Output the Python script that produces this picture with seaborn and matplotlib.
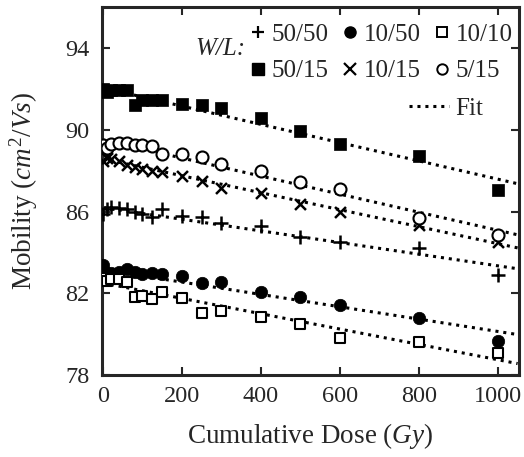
import numpy as np
import pandas as pd
import matplotlib.pyplot as plt
from matplotlib.lines import Line2D
import seaborn as sns

# dose points (Gy)
dose = [0, 10, 20, 40, 60, 80, 100, 125, 150, 200, 250, 300, 400, 500, 600, 800, 1000]

# mobility (cm^2/Vs) for each W/L
mob_50_50 = [85.9, 86.1, 86.2, 86.15, 86.1, 86.0, 85.9, 85.75, 86.1, 85.8, 85.75, 85.45, 85.3, 84.75, 84.5, 84.2, 82.9]
mob_10_50 = [83.39, 83.0, 82.98, 83.05, 83.18, 83.06, 82.95, 83.0, 82.95, 82.85, 82.52, 82.57, 82.08, 81.84, 81.43, 80.81, 79.67]
mob_10_10 = [82.75, 82.6, 82.7, 82.7, 82.57, 81.8, 81.87, 81.7, 82.05, 81.77, 81.04, 81.15, 80.86, 80.5, 79.8, 79.6, 79.1]
mob_50_15 = [92.0, 91.85, 91.95, 91.95, 91.95, 91.2, 91.45, 91.45, 91.45, 91.25, 91.2, 91.07, 90.58, 89.93, 89.32, 88.7, 87.03]
mob_10_15 = [88.46, 88.62, 88.55, 88.48, 88.3, 88.17, 88.1, 88.0, 87.92, 87.72, 87.48, 87.15, 86.9, 86.38, 86.0, 85.35, 84.53]
mob_5_15 = [89.27, 89.1, 89.3, 89.35, 89.36, 89.27, 89.27, 89.22, 88.83, 88.83, 88.67, 88.34, 87.97, 87.43, 87.1, 85.68, 84.86]

# fit lines (end points)
fit_dose = [0, 1050]
fit_50_50 = [86.19, 83.2]
fit_10_50 = [83.15, 79.98]
fit_10_10 = [82.5, 78.56]
fit_50_15 = [92.05, 87.36]
fit_10_15 = [88.58, 84.22]
fit_5_15 = [89.5, 84.86]

labels = ['50/50', '10/50', '10/10', '50/15', '10/15', '5/15']
markers = ['+', 'o', 's', 's', 'x', 'o']
filled = [True, True, False, True, True, False]
sizes = [95, 80, 62, 70, 62, 75]
mobs = [mob_50_50, mob_10_50, mob_10_10, mob_50_15, mob_10_15, mob_5_15]
fits = [fit_50_50, fit_10_50, fit_10_10, fit_50_15, fit_10_15, fit_5_15]

sns.set_style("ticks")
plt.rcParams['font.family'] = ['Liberation Serif', 'DejaVu Serif']
plt.rcParams['mathtext.fontset'] = 'custom'
plt.rcParams['mathtext.rm'] = 'Liberation Serif'
plt.rcParams['mathtext.it'] = 'Liberation Serif:italic'

fig = plt.figure(figsize=(5.24, 4.57), dpi=100)
ax = fig.add_axes([0.195, 0.1794, 0.795, 0.805])

dotted = (0, (1, 1.6))
for f in fits:
    sns.lineplot(x=fit_dose, y=f, ax=ax, color='black', lw=2.2, linestyle=dotted, zorder=1)

# filled markers first, open ones on top
order = [0, 1, 3, 4, 2, 5]
for i in order:
    df = pd.DataFrame({'dose': dose, 'mob': mobs[i]})
    if markers[i] in ['+', 'x']:
        sns.scatterplot(data=df, x='dose', y='mob', ax=ax, marker=markers[i], s=sizes[i],
                        color='black', linewidth=1.8, zorder=3)
    elif filled[i]:
        sns.scatterplot(data=df, x='dose', y='mob', ax=ax, marker=markers[i], s=sizes[i],
                        color='black', edgecolor='black', linewidth=0.5, zorder=3)
    else:
        sns.scatterplot(data=df, x='dose', y='mob', ax=ax, marker=markers[i], s=sizes[i],
                        facecolor='white', edgecolor='black', linewidth=1.5, zorder=4)

ax.set_xlim(-2, 1053)
ax.set_ylim(78, 96)
ax.set_xticks([0, 200, 400, 600, 800, 1000])
ax.set_yticks([78, 82, 86, 90, 94])
ax.tick_params(direction='in', length=6, width=1.5, top=True, right=True, labelsize=17.5)
ax.tick_params(axis='y', pad=9)
ax.tick_params(axis='x', pad=8)
for sp in ax.spines.values():
    sp.set_linewidth(2.2)

ax.set_xlabel('Cumulative Dose ($Gy$)', fontsize=19.5, labelpad=10)
ax.set_ylabel('Mobility ($cm^2/Vs$)', fontsize=19.5, labelpad=18)

# legend: markers in column-major order
def handle(i):
    if filled[i] and markers[i] not in ['+', 'x']:
        return Line2D([], [], ls='none', marker=markers[i], color='black', ms=8)
    if markers[i] in ['+', 'x']:
        return Line2D([], [], ls='none', marker=markers[i], color='black', ms=8, mew=1.6)
    return Line2D([], [], ls='none', marker=markers[i], mfc='white', mec='black', ms=7.5, mew=1.4)

leg_order = [0, 3, 1, 4, 2, 5]
leg1 = ax.legend([handle(i) for i in leg_order], [labels[i] for i in leg_order],
                 ncol=3, loc='upper right', bbox_to_anchor=(0.985, 0.955), frameon=False,
                 fontsize=18, handlelength=0.7, handletextpad=0.2, columnspacing=0.5,
                 labelspacing=0.55, borderpad=0, borderaxespad=0)
ax.add_artist(leg1)
ax.legend([Line2D([], [], color='black', lw=2.2, ls=dotted)], ['Fit'],
          loc='upper right', bbox_to_anchor=(0.915, 0.755), frameon=False, fontsize=18,
          handlelength=1.6, handletextpad=0.25, borderpad=0, borderaxespad=0)
ax.text(0.283, 0.885, 'W/L:', transform=ax.transAxes, fontsize=18, style='italic',
        ha='center', va='center')

fig.savefig('out.png', dpi=100)
